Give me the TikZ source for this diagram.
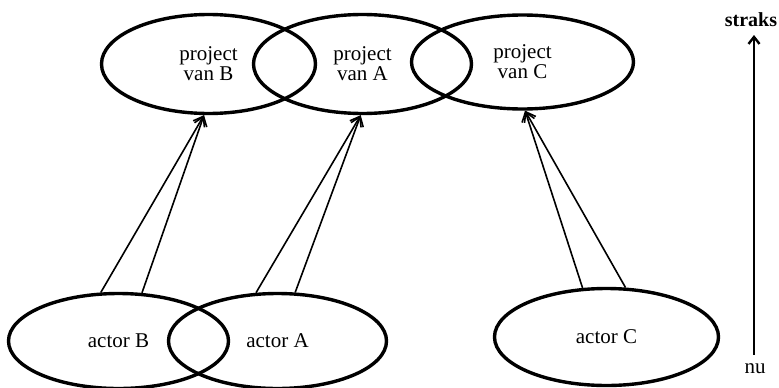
\documentclass[tikz,border=0pt]{standalone}
\usepackage{fontspec}
\setmainfont{Liberation Serif}
\usetikzlibrary{shapes.geometric,arrows.meta}
\tikzset{
  oval/.style={ellipse, draw, line width=3.4pt, inner sep=0pt, align=center,
    font=\fontsize{21}{20}\selectfont},
  link/.style={line width=1.6pt, -{Straight Barb[length=9pt,width=13pt,line width=1.6pt]}},
  timeline/.style={line width=2.4pt, -{Straight Barb[length=7pt,width=11pt,line width=2.4pt]}},
  lbl/.style={inner sep=0pt, font=\fontsize{21}{20}\selectfont}
}
\begin{document}
\begin{tikzpicture}[x=1pt,y=-1pt]
\useasboundingbox (0,0) rectangle (779,388);
\node[oval, minimum width=214pt, minimum height=99pt] (projB) at (208.5,64) {project\\van B};
\node[oval, minimum width=218pt, minimum height=99pt] (projA) at (362.5,64) {project\\van A};
\node[oval, minimum width=222pt, minimum height=94pt] (projC) at (522.5,62) {project\\van C};
\node[oval, minimum width=220pt, minimum height=95pt] (actB) at (118.5,341) {actor B};
\node[oval, minimum width=218pt, minimum height=95pt] (actA) at (277.5,341) {actor A};
\node[oval, minimum width=224pt, minimum height=97pt] (actC) at (606.5,337) {actor C};
\draw[link] (actB.110) -- (projB.265);
\draw[link] (actB.64) -- (projB.265);
\draw[link] (actA.114) -- (projA.268);
\draw[link] (actA.70) -- (projA.268);
\draw[link] (actC.116) -- (projC.273);
\draw[link] (actC.69) -- (projC.273);
\node[lbl, font=\fontsize{20}{20}\selectfont\bfseries, anchor=base] (straks) at (751,27) {straks};
\node[lbl, anchor=base] (nu) at (755,373) {nu};
\draw[timeline] (nu.north -| 754,0) ++(0,-8) coordinate (nutop) (nutop) -- (754,35) coordinate (stop);
\end{tikzpicture}
\end{document}
